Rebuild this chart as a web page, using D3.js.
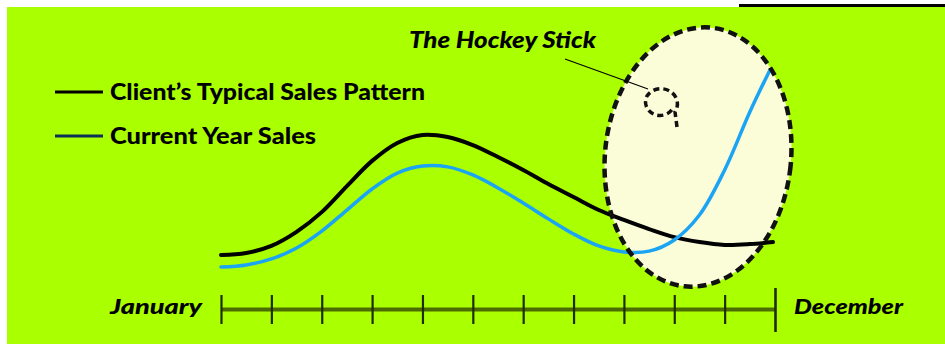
<!DOCTYPE html>
<html><head><meta charset="utf-8">
<script src="https://cdn.jsdelivr.net/npm/d3@7"></script>
<style>html,body{margin:0;padding:0;background:#fff;}svg{display:block;}</style>
</head><body>
<svg id="c" width="945" height="344"></svg>
<script>
// ---- data ----
const months = ["January","February","March","April","May","June","July","August","September","October","November","December"];
const tickLabels = ["January","December"];
const seriesNames = ["Client\u2019s Typical Sales Pattern","Current Year Sales"];
// x positions in months (0 = January, 11 = December)
const typicalX = [0,0.5,1,1.5,2,2.5,3,3.5,4,4.5,5,5.5,6,6.5,7,7.5,8,8.5,9,9.5,10,10.5,10.96];
const typicalSales = [17.3,18.1,20.8,26.2,33.8,43.8,53.5,60.4,63.5,62.7,59.6,55.0,50.0,44.6,39.6,34.6,30.8,27.3,24.2,22.3,21.2,21.5,22.3];
const currentX = [0,0.5,1,1.5,2,2.5,3,3.5,4,4.5,5,5.5,6,6.5,7,7.5,8,8.5,9,9.5,10,10.5,10.9];
const currentSales = [12.7,13.5,15.8,20.0,26.5,34.6,42.7,48.8,51.5,51.2,48.1,43.1,37.3,31.2,25.4,20.8,18.5,18.8,23.1,32.7,50.0,72.3,88.5];
const annotation = "The Hockey Stick";

// ---- drawing ----
const svg = d3.select("#c");
const x = d3.scaleLinear().domain([0, 11]).range([221, 775]);
const y = d3.scaleLinear().domain([0, 100]).range([300, 40]);

// background
svg.append("rect").attr("x",7).attr("y",7).attr("width",938).attr("height",337).attr("fill","#aaff00");
svg.append("rect").attr("x",739).attr("y",4).attr("width",206).attr("height",3).attr("fill","#000");

// highlight ellipse fill
const eg = svg.append("g").attr("transform","translate(698,157) rotate(6)");
eg.append("ellipse").attr("rx",93).attr("ry",130).attr("fill","#fbfcd8");

// lines
const line = d3.line().x(d=>x(d[0])).y(d=>y(d[1])).curve(d3.curveCatmullRom.alpha(0.5));
svg.append("path").datum(typicalX.map((v,i)=>[v,typicalSales[i]]))
  .attr("d",line).attr("fill","none").attr("stroke","#000").attr("stroke-width",4).attr("stroke-linecap","round");
svg.append("path").datum(currentX.map((v,i)=>[v,currentSales[i]]))
  .attr("d",line).attr("fill","none").attr("stroke","#1ba4f4").attr("stroke-width",3.5).attr("stroke-linecap","round");

// dashed ellipse border
svg.append("g").attr("transform","translate(698,157) rotate(6)")
  .append("ellipse").attr("rx",93).attr("ry",130).attr("fill","none")
  .attr("stroke","#111").attr("stroke-width",4.5).attr("stroke-dasharray","9,5");

// small curl
svg.append("path")
  .attr("d","M 677 127 L 675 112 A 14 13 0 1 0 647 96 A 14 13 0 0 0 673 108")
  .attr("fill","none").attr("stroke","#111").attr("stroke-width",3.5).attr("stroke-dasharray","6,4");
// leader line
svg.append("line").attr("x1",565).attr("y1",59).attr("x2",648).attr("y2",89)
  .attr("stroke","#000").attr("stroke-width",1.2);

// annotation
svg.append("text").attr("x",409).attr("y",48).text(annotation)
  .attr("font-family","Lato, 'DejaVu Sans', sans-serif").attr("font-weight",900).attr("font-style","italic")
  .attr("font-size",22).attr("textLength",187).attr("lengthAdjust","spacingAndGlyphs");

// legend
const legendColors = ["#000","#0a2f58"];
const legendY = [92,136];
const legendW = [315,206];
seriesNames.forEach((n,i)=>{
  svg.append("line").attr("x1",55).attr("x2",103).attr("y1",legendY[i]).attr("y2",legendY[i])
    .attr("stroke",legendColors[i]).attr("stroke-width",3);
  svg.append("text").attr("x",110).attr("y",legendY[i]+7.5).text(n)
    .attr("font-family","Lato, 'DejaVu Sans', sans-serif").attr("font-weight",900)
    .attr("font-size",22).attr("textLength",legendW[i]).attr("lengthAdjust","spacingAndGlyphs");
});

// axis
const axis = d3.axisBottom(x).tickValues(d3.range(12)).tickSize(29).tickSizeOuter(0).tickFormat("");
const ag = svg.append("g").attr("transform","translate(0,309)").call(axis);
ag.select(".domain").attr("stroke","#4a6c00").attr("stroke-width",4);
ag.selectAll(".tick line").attr("y1",-14).attr("y2",15).attr("stroke","#1e2c00").attr("stroke-width",2.2);
ag.selectAll(".tick").filter(d=>d===11).select("line").attr("y1",-21).attr("y2",23).attr("stroke-width",2.6);

// axis end labels
svg.append("text").attr("x",110).attr("y",314).text(tickLabels[0])
  .attr("font-family","Lato, 'DejaVu Sans', sans-serif").attr("font-weight",900).attr("font-style","italic")
  .attr("font-size",20).attr("textLength",92).attr("lengthAdjust","spacingAndGlyphs");
svg.append("text").attr("x",794).attr("y",314).text(tickLabels[1])
  .attr("font-family","Lato, 'DejaVu Sans', sans-serif").attr("font-weight",900).attr("font-style","italic")
  .attr("font-size",20).attr("textLength",109).attr("lengthAdjust","spacingAndGlyphs");
</script>
</body></html>
